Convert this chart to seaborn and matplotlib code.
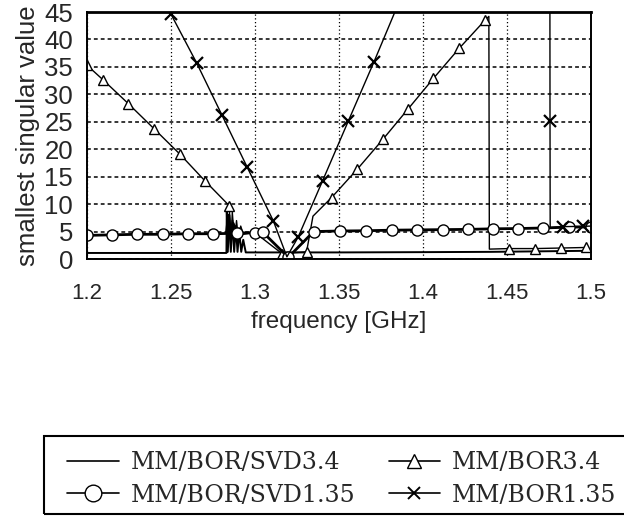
import numpy as np
import pandas as pd
import matplotlib
matplotlib.use("Agg")
import matplotlib.pyplot as plt
from matplotlib.lines import Line2D
from matplotlib.patches import Rectangle
from matplotlib.ticker import MultipleLocator
import seaborn as sns

# ---------------- data ----------------
# MM/BOR/SVD3.4 (plain line)
f_svd34 = [1.2, 1.283, 1.2832, 1.2838, 1.2848, 1.2856, 1.2866, 1.2876, 1.2886, 1.2896,
           1.2906, 1.2918, 1.2930, 1.2945, 1.35, 1.40, 1.44, 1.5]
v_svd34 = [1.1, 1.1, 9.0, 1.3, 8.0, 1.3, 7.0, 1.3, 6.0, 1.3,
           5.0, 1.3, 3.5, 1.2, 1.2, 1.25, 1.3, 1.5]

# MM/BOR3.4 (triangles)
f_bor34 = [1.2, 1.2097, 1.2246, 1.2400, 1.2553, 1.2700, 1.2847, 1.2855, 1.2865, 1.2878,
           1.2890, 1.2902, 1.2915, 1.2930, 1.3000, 1.3160, 1.3307, 1.3345, 1.3456, 1.3610,
           1.3764, 1.3913, 1.4062, 1.4216, 1.4369, 1.4392, 1.4395, 1.4514, 1.4667, 1.4820,
           1.4970]
v_bor34 = [35.3, 32.6, 28.3, 23.7, 19.1, 14.3, 9.7, 2.0, 8.5, 3.0,
           7.0, 3.5, 6.0, 4.5, 4.8, 1.0, 1.3, 7.8, 11.2, 16.4,
           21.9, 27.4, 32.9, 38.4, 43.5, 44.2, 1.8, 1.9, 1.9, 2.0,
           2.1]
mk_bor34 = [0, 1, 2, 3, 4, 5, 6, 15, 16, 18, 19, 20, 21, 22, 23, 24, 27, 28, 29, 30]

# MM/BOR/SVD1.35 (circles)
f_svd135 = [1.2, 1.2147, 1.2300, 1.2455, 1.2603, 1.2752, 1.2830, 1.2842, 1.2856, 1.2870,
            1.2893, 1.2905, 1.2920, 1.3000, 1.3046, 1.3198, 1.3349, 1.3504, 1.3661, 1.3813,
            1.3962, 1.4117, 1.4270, 1.4415, 1.4567, 1.4716, 1.4870, 1.5000]
v_svd135 = [4.3, 4.4, 4.5, 4.5, 4.6, 4.6, 4.65, 8.0, 4.7, 6.5,
            4.7, 5.5, 4.75, 4.8, 4.9, 0.3, 5.0, 5.1, 5.15, 5.25,
            5.3, 5.35, 5.4, 5.5, 5.55, 5.65, 5.8, 5.85]
mk_svd135 = [0, 1, 2, 3, 4, 5, 10, 13, 14, 15, 16, 17, 18, 19, 20, 21, 22, 23, 24, 25, 26, 27]

# MM/BOR1.35 (crosses)
f_bor135 = [1.235, 1.2500, 1.2653, 1.2802, 1.2954, 1.3109, 1.3190, 1.3257, 1.3403, 1.3555,
            1.3708, 1.3860, 1.4755, 1.4756, 1.4757, 1.4835, 1.4955, 1.5]
v_bor135 = [53.5, 44.6, 35.7, 26.3, 16.7, 6.95, 0.4, 4.0, 14.3, 25.1,
            35.9, 47.0, 60.0, 25.2, 5.7, 5.9, 5.95, 6.0]
mk_bor135 = [1, 2, 3, 4, 5, 7, 8, 9, 10, 13, 15, 16]

labels = ["MM/BOR/SVD3.4", "MM/BOR3.4", "MM/BOR/SVD1.35", "MM/BOR1.35"]
x_ticks = [1.2, 1.25, 1.3, 1.35, 1.4, 1.45, 1.5]
x_ticklabels = ["1.2", "1.25", "1.3", "1.35", "1.4", "1.45", "1.5"]
y_ticks = [0, 5, 10, 15, 20, 25, 30, 35, 40, 45]

# ---------------- figure ----------------
sns.set_style("white")
plt.rcParams["font.family"] = ["Liberation Sans", "DejaVu Sans"]

W, H = 624, 525
fig = plt.figure(figsize=(6.24, 5.25), dpi=100)
ax = fig.add_axes([87 / W, 1 - 259 / H, (591 - 87) / W, (259 - 12) / H])

def draw(f, v, lw, marker=None, ms=8, mk=None, mew=1.0):
    df = pd.DataFrame({"f": f, "v": v})
    kw = {}
    if marker is not None:
        kw = dict(marker=marker, markevery=mk, markersize=ms, markerfacecolor="white",
                  markeredgecolor="black", markeredgewidth=mew)
    sns.lineplot(data=df, x="f", y="v", ax=ax, sort=False, estimator=None,
                 color="black", linewidth=lw, **kw)

draw(f_svd34, v_svd34, 1.4)
draw(f_bor34, v_bor34, 1.0, "^", 7, mk_bor34)
draw(f_svd135, v_svd135, 2.0, "o", 8, mk_svd135)
draw(f_bor135, v_bor135, 1.0, "x", 8, mk_bor135, 1.6)

ax.set_xlim(1.2, 1.5)
ax.set_ylim(0, 45)
ax.set_xticks(x_ticks)
ax.set_xticklabels(x_ticklabels)
ax.set_yticks(y_ticks)
ax.xaxis.set_minor_locator(MultipleLocator(0.025))
ax.yaxis.set_minor_locator(MultipleLocator(2.5))
ax.tick_params(axis="both", which="major", direction="inout", length=8, width=1.2, color="black")
ax.tick_params(axis="both", which="minor", direction="inout", length=5, width=1.0, color="black")
ax.tick_params(axis="y", labelsize=18.5, pad=6)
ax.tick_params(axis="x", labelsize=16, pad=13)

ax.yaxis.grid(True, linestyle=(0, (2.5, 2)), color="black", linewidth=1.1)
ax.xaxis.grid(True, linestyle=(0, (1, 2)), color="black", linewidth=0.9)
ax.set_axisbelow(True)
for s in ax.spines.values():
    s.set_color("black")
    s.set_linewidth(1.4)
ax.spines["top"].set_linewidth(2.0)

ax.set_xlabel("frequency [GHz]", fontsize=17.5, labelpad=5)
ax.set_ylabel("smallest singular value", fontsize=18.5, labelpad=3)

# legend (proxy handles, frame drawn as a box running off the right edge)
handles = [
    Line2D([], [], color="black", linewidth=1.2),
    Line2D([], [], color="black", linewidth=1.2, marker="o", markersize=12,
           markerfacecolor="white", markeredgecolor="black"),
    Line2D([], [], color="black", linewidth=1.2, marker="^", markersize=10,
           markerfacecolor="white", markeredgecolor="black"),
    Line2D([], [], color="black", linewidth=1.2, marker="x", markersize=8,
           markeredgewidth=1.4),
]
leg_labels = [labels[0], labels[2], labels[1], labels[3]]
leg = fig.legend(handles, leg_labels, ncol=2, loc="upper left",
                 bbox_to_anchor=(60 / W, 1 - 444 / H),
                 borderaxespad=0, frameon=False,
                 prop={"family": "DejaVu Serif", "size": 17},
                 handlelength=2.2, handletextpad=0.5, columnspacing=1.4,
                 borderpad=0.3, labelspacing=0.4)
fig.patches.append(Rectangle((44 / W, 1 - 514 / H), 620 / W, 78 / H,
                             transform=fig.transFigure, fill=False,
                             edgecolor="black", linewidth=1.5))

fig.savefig("out.png", dpi=100)
